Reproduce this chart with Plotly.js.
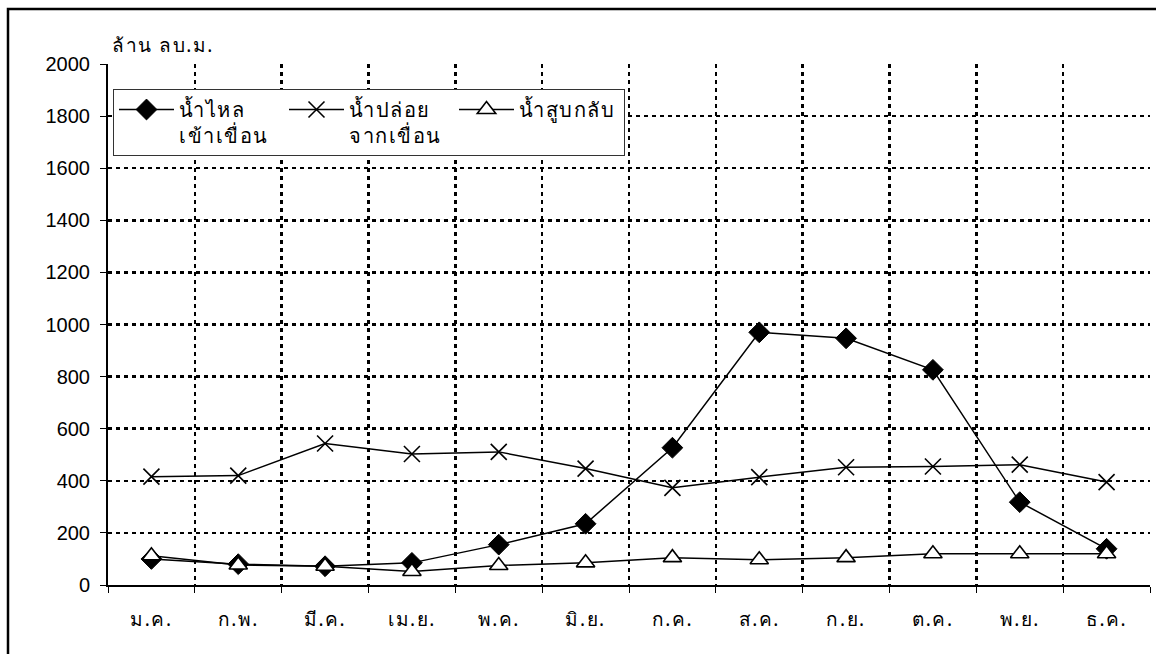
<!DOCTYPE html>
<html>
<head>
<meta charset="utf-8">
<script src="https://cdn.plot.ly/plotly-3.0.1.min.js"></script>
<style>
html,body{margin:0;padding:0;background:#fff;}
#chart{width:1156px;height:654px;}
#chart .legendtext, #chart .xtick text, #chart .annotation-text {letter-spacing: 1.5px;}
</style>
</head>
<body>
<div id="chart"></div>
<script>
const months = ["ม.ค.","ก.พ.","มี.ค.","เม.ย.","พ.ค.","มิ.ย.","ก.ค.","ส.ค.","ก.ย.","ต.ค.","พ.ย.","ธ.ค."];
const inflow = [100, 80, 72, 85, 155, 235, 527, 970, 947, 826, 318, 139];
const release = [416, 420, 543, 503, 511, 447, 373, 414, 452, 455, 462, 395];
const pumpback = [112, 77, 72, 52, 75, 85, 105, 97, 105, 120, 120, 120];
const seriesNames = ["น้ำไหล<br>เข้าเขื่อน", "น้ำปล่อย<br>จากเขื่อน", "น้ำสูบกลับ"];
const yTitle = "ล้าน ลบ.ม.";

const thaiFont = "Noto Sans, Liberation Sans, sans-serif";
const numFont = "Liberation Sans, Arial, sans-serif";

const traces = [
  {x: months, y: inflow, name: seriesNames[0], type: "scatter", mode: "lines+markers",
   line: {color: "#000", width: 1.5},
   marker: {symbol: "diamond", size: 16, color: "#000", line: {color: "#000", width: 1}}},
  {x: months, y: release, name: seriesNames[1], type: "scatter", mode: "lines+markers",
   line: {color: "#000", width: 1.5},
   marker: {symbol: "x-thin", size: 16, color: "#000", line: {color: "#000", width: 1.6}}},
  {x: months, y: pumpback, name: seriesNames[2], type: "scatter", mode: "lines+markers",
   line: {color: "#000", width: 1.5},
   marker: {symbol: "triangle-up", size: 16, color: "#fff", line: {color: "#000", width: 1.6}}}
];

const L = 108, R = 6, T = 64, B = 69, W = 1156, H = 654;
const pw = W - L - R, ph = H - T - B;
const px = v => (v - L) / pw;
const py = v => (H - B - v) / ph;

const layout = {
  width: W, height: H,
  margin: {l: L, r: R, t: T, b: B, pad: 0},
  paper_bgcolor: "#fff", plot_bgcolor: "#fff",
  showlegend: true,
  font: {family: thaiFont, color: "#000", size: 19},
  xaxis: {
    type: "category", tickson: "boundaries",
    range: [-0.5, 11.5],
    showline: true, linecolor: "#000", linewidth: 2,
    ticks: "outside", ticklen: 6, tickcolor: "#000", tickwidth: 1,
    showgrid: true, gridcolor: "#000", gridwidth: 2.5, griddash: "4px,4px",
    tickfont: {family: thaiFont, size: 19, color: "#000"},
    ticklabelstandoff: 16,
    zeroline: false, fixedrange: true
  },
  yaxis: {
    range: [0, 2000], dtick: 200, tick0: 0,
    showline: true, linecolor: "#000", linewidth: 2,
    ticks: "outside", ticklen: 6, tickcolor: "#000", tickwidth: 1,
    showgrid: true, gridcolor: "#000", gridwidth: 2.5, griddash: "4px,4px",
    tickfont: {family: numFont, size: 20, color: "#000"},
    ticklabelstandoff: 6,
    zeroline: false, fixedrange: true
  },
  legend: {
    orientation: "h", x: px(113), y: py(89), xanchor: "left", yanchor: "top",
    bgcolor: "#fff", bordercolor: "#333", borderwidth: 1,
    font: {family: thaiFont, size: 20, color: "#000"},
    itemwidth: 55, traceorder: "normal", valign: "top",
    entrywidth: 100, entrywidthmode: "pixels"
  },
  annotations: [
    {text: yTitle, xref: "paper", yref: "paper", x: px(117), y: py(45),
     xanchor: "left", yanchor: "middle", showarrow: false,
     font: {family: thaiFont, size: 19, color: "#000"}}
  ],
  shapes: [
    {type: "rect", xref: "paper", yref: "paper", layer: "above",
     x0: px(8), x1: px(1170), y0: py(680), y1: py(9),
     line: {color: "#000", width: 2.5}, fillcolor: "rgba(0,0,0,0)"}
  ]
};

Plotly.newPlot("chart", traces, layout, {displayModeBar: false, staticPlot: true});
</script>
</body>
</html>
